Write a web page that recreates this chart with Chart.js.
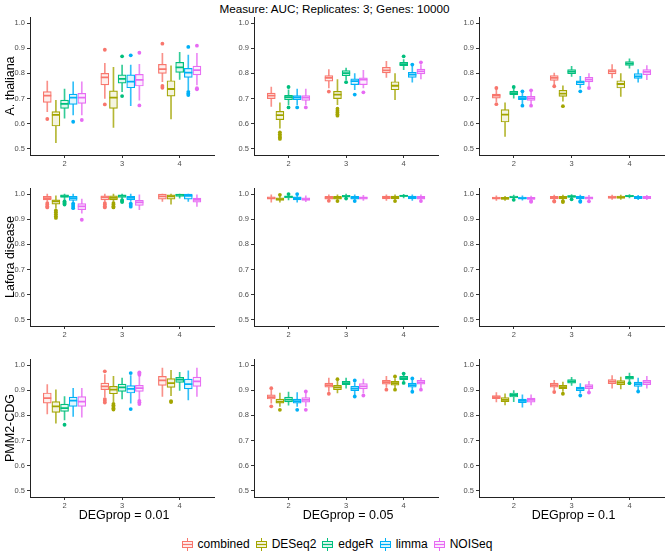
<!DOCTYPE html>
<html>
<head>
<meta charset="utf-8">
<script src="https://cdn.jsdelivr.net/npm/chart.js"></script>
<style>
html, body { margin: 0; padding: 0; background: #fff; width: 669px; height: 552px; overflow: hidden; }
body { position: relative; font-family: 'Liberation Sans', Arial, sans-serif; color: #000; }
canvas { position: absolute; }
#title { position: absolute; top: 2px; left: 0; width: 669px; text-align: center; font-size: 11.7px; line-height: 13px; }
.rowlab { position: absolute; left: 10px; font-size: 12.5px; white-space: nowrap; transform: translate(-50%, -50%) rotate(-90deg); }
.collab { position: absolute; top: 508px; font-size: 12.5px; line-height: 14px; white-space: nowrap; transform: translateX(-50%); }
#legend { position: absolute; top: 537px; left: 0; width: 674px; display: flex; justify-content: center; align-items: center; font-size: 12px; line-height: 14px; }
#legend .item { display: flex; align-items: center; margin: 0 3px; }
#legend svg { margin-right: 5px; }
</style>
</head>
<body>
<div id="title">Measure: AUC; Replicates: 3; Genes: 10000</div>
<div id="legend"></div>
<script>
// each box: [lower whisker, Q1, median, Q3, upper whisker]
// one row per method, one box per number of samples
const methods = ['combined', 'DESeq2', 'edgeR', 'limma', 'NOISeq'];
const sampleSizes = ['2', '3', '4'];
const degProps = ['DEGprop = 0.01', 'DEGprop = 0.05', 'DEGprop = 0.1'];
const organisms = ['A. thaliana', 'Lafora disease', 'PMM2-CDG'];
const yTicks = [0.5, 0.6, 0.7, 0.8, 0.9, 1.0];

const athal_01 = [
  [[0.648, 0.685, 0.712, 0.728, 0.770], [0.701, 0.754, 0.784, 0.800, 0.840], [0.767, 0.800, 0.817, 0.836, 0.880]],
  [[0.525, 0.591, 0.635, 0.648, 0.693], [0.586, 0.661, 0.704, 0.731, 0.824], [0.619, 0.710, 0.738, 0.771, 0.830]],
  [[0.622, 0.661, 0.679, 0.694, 0.738], [0.727, 0.761, 0.778, 0.794, 0.833], [0.776, 0.804, 0.824, 0.844, 0.884]],
  [[0.635, 0.677, 0.704, 0.718, 0.767], [0.672, 0.743, 0.767, 0.794, 0.833], [0.735, 0.784, 0.803, 0.820, 0.873]],
  [[0.635, 0.681, 0.704, 0.721, 0.767], [0.694, 0.750, 0.774, 0.796, 0.836], [0.754, 0.794, 0.813, 0.829, 0.880]]
];
const athal_01_out = [
  [[0.619], [0.894, 0.677], [0.918, 0.750, 0.743]],
  [[], [], []],
  [[], [0.868, 0.710], []],
  [[0.608], [0.872], [0.905, 0.727, 0.720, 0.714]],
  [[0.615], [0.882, 0.673], [0.910, 0.741, 0.737]]
];

const athal_05 = [
  [[0.669, 0.700, 0.712, 0.722, 0.746], [0.742, 0.769, 0.782, 0.791, 0.815], [0.784, 0.802, 0.812, 0.824, 0.848]],
  [[0.583, 0.616, 0.634, 0.649, 0.683], [0.676, 0.700, 0.716, 0.729, 0.775], [0.696, 0.735, 0.751, 0.767, 0.799]],
  [[0.676, 0.696, 0.706, 0.713, 0.735], [0.775, 0.791, 0.801, 0.811, 0.821], [0.815, 0.831, 0.837, 0.844, 0.855]],
  [[0.676, 0.696, 0.705, 0.712, 0.738], [0.735, 0.755, 0.769, 0.778, 0.799], [0.765, 0.784, 0.795, 0.804, 0.828]],
  [[0.676, 0.693, 0.704, 0.712, 0.738], [0.742, 0.755, 0.775, 0.782, 0.812], [0.778, 0.798, 0.808, 0.817, 0.835]]
];
const athal_05_out = [
  [[], [0.728], []],
  [[0.566, 0.558, 0.551, 0.545, 0.540], [0.660, 0.652, 0.645, 0.638, 0.632], []],
  [[0.746, 0.665], [0.765], [0.868]],
  [[0.665], [0.716], [0.835]],
  [[0.665], [0.725], [0.844]]
];

const athal_10 = [
  [[0.688, 0.702, 0.712, 0.718, 0.737], [0.755, 0.772, 0.782, 0.791, 0.801], [0.782, 0.798, 0.808, 0.815, 0.835]],
  [[0.550, 0.607, 0.636, 0.656, 0.683], [0.690, 0.709, 0.720, 0.733, 0.751], [0.709, 0.742, 0.758, 0.771, 0.799]],
  [[0.702, 0.716, 0.722, 0.729, 0.740], [0.788, 0.799, 0.807, 0.815, 0.828], [0.821, 0.832, 0.839, 0.847, 0.858]],
  [[0.680, 0.696, 0.702, 0.709, 0.725], [0.742, 0.755, 0.765, 0.771, 0.788], [0.765, 0.780, 0.788, 0.799, 0.815]],
  [[0.680, 0.693, 0.701, 0.709, 0.725], [0.750, 0.766, 0.775, 0.784, 0.799], [0.775, 0.795, 0.806, 0.815, 0.831]]
];
const athal_10_out = [
  [[0.742, 0.678], [0.749], []],
  [[], [0.670], []],
  [[0.746], [], []],
  [[0.729, 0.672], [0.729], []],
  [[0.733, 0.672], [0.742], []]
];

const lafora_01 = [
  [[0.971, 0.977, 0.984, 0.991, 1.0], [0.971, 0.977, 0.987, 0.993, 1.0], [0.971, 0.980, 0.991, 1.0, 1.0]],
  [[0.944, 0.960, 0.971, 0.977, 0.993], [0.971, 0.977, 0.985, 0.993, 1.0], [0.960, 0.980, 0.991, 0.997, 1.0]],
  [[0.975, 0.987, 0.992, 0.997, 1.0], [0.980, 0.987, 0.993, 0.997, 1.0], [0.984, 0.991, 0.997, 1.0, 1.0]],
  [[0.964, 0.975, 0.984, 0.991, 1.0], [0.971, 0.977, 0.985, 0.991, 1.0], [0.971, 0.980, 0.993, 1.0, 1.0]],
  [[0.924, 0.938, 0.951, 0.962, 0.980], [0.938, 0.955, 0.967, 0.975, 0.997], [0.951, 0.968, 0.977, 0.984, 0.997]]
];
const lafora_01_out = [
  [[0.964, 0.958, 0.952, 0.947], [0.964, 0.958, 0.952, 0.947], []],
  [[0.935, 0.928, 0.920, 0.912, 0.905], [0.964, 0.958, 0.952, 0.947], []],
  [[0.971, 0.966, 0.962, 0.958], [0.976, 0.972, 0.968], []],
  [[0.962, 0.956, 0.950, 0.944], [0.962, 0.956, 0.950], []],
  [[0.898], [], []]
];

const lafora_05 = [
  [[0.968, 0.980, 0.984, 0.989, 0.997], [0.975, 0.980, 0.985, 0.991, 0.997], [0.975, 0.981, 0.987, 0.992, 0.997]],
  [[0.968, 0.975, 0.980, 0.985, 0.993], [0.975, 0.980, 0.985, 0.991, 0.997], [0.975, 0.981, 0.987, 0.992, 0.997]],
  [[0.977, 0.985, 0.989, 0.993, 0.998], [0.980, 0.988, 0.992, 0.995, 1.0], [0.985, 0.991, 0.993, 0.996, 0.999]],
  [[0.968, 0.977, 0.984, 0.989, 0.997], [0.975, 0.980, 0.985, 0.991, 0.997], [0.975, 0.981, 0.987, 0.992, 0.997]],
  [[0.970, 0.975, 0.980, 0.985, 0.993], [0.975, 0.980, 0.985, 0.989, 0.995], [0.975, 0.980, 0.985, 0.991, 0.997]]
];
const lafora_05_out = [
  [[], [0.973], []],
  [[0.997], [0.972], [0.972]],
  [[1.0], [0.982], []],
  [[1.0], [0.972], []],
  [[], [], [0.972]]
];

const lafora_10 = [
  [[0.975, 0.980, 0.984, 0.988, 0.993], [0.976, 0.981, 0.986, 0.991, 0.996], [0.979, 0.983, 0.988, 0.992, 0.996]],
  [[0.975, 0.979, 0.983, 0.987, 0.991], [0.976, 0.981, 0.986, 0.991, 0.996], [0.979, 0.983, 0.988, 0.992, 0.996]],
  [[0.980, 0.985, 0.988, 0.992, 0.996], [0.983, 0.987, 0.991, 0.994, 0.998], [0.985, 0.989, 0.992, 0.995, 0.998]],
  [[0.976, 0.980, 0.984, 0.988, 0.993], [0.976, 0.981, 0.986, 0.991, 0.996], [0.978, 0.982, 0.987, 0.991, 0.995]],
  [[0.975, 0.979, 0.983, 0.987, 0.992], [0.976, 0.980, 0.985, 0.989, 0.995], [0.978, 0.982, 0.987, 0.991, 0.995]]
];
const lafora_10_out = [
  [[], [0.972, 0.970], []],
  [[], [0.972, 0.968], []],
  [[0.977], [0.979], []],
  [[], [0.972, 0.969], []],
  [[0.972, 0.969], [0.971], []]
];

const pmm_01 = [
  [[0.806, 0.849, 0.869, 0.889, 0.922], [0.873, 0.902, 0.915, 0.928, 0.962], [0.875, 0.919, 0.939, 0.955, 0.988]],
  [[0.769, 0.812, 0.836, 0.855, 0.902], [0.855, 0.886, 0.902, 0.915, 0.955], [0.878, 0.911, 0.928, 0.946, 0.979]],
  [[0.782, 0.816, 0.829, 0.845, 0.875], [0.865, 0.895, 0.911, 0.924, 0.948], [0.899, 0.931, 0.942, 0.951, 0.971]],
  [[0.796, 0.836, 0.859, 0.873, 0.908], [0.849, 0.889, 0.905, 0.918, 0.958], [0.862, 0.905, 0.924, 0.944, 0.977]],
  [[0.793, 0.836, 0.855, 0.875, 0.908], [0.862, 0.895, 0.908, 0.919, 0.958], [0.875, 0.915, 0.935, 0.952, 0.988]]
];
const pmm_01_out = [
  [[], [0.975, 0.865, 0.858, 0.851], []],
  [[], [0.846, 0.840, 0.834, 0.828, 0.823], [0.857, 0.853]],
  [[0.763], [], []],
  [[], [0.968, 0.825], []],
  [[], [0.971, 0.966, 0.961, 0.858, 0.852, 0.845], []]
];

const pmm_05 = [
  [[0.849, 0.865, 0.873, 0.882, 0.902], [0.895, 0.912, 0.920, 0.928, 0.948], [0.911, 0.924, 0.932, 0.939, 0.955]],
  [[0.836, 0.849, 0.855, 0.865, 0.889], [0.889, 0.902, 0.911, 0.919, 0.935], [0.908, 0.920, 0.928, 0.935, 0.946]],
  [[0.841, 0.854, 0.863, 0.873, 0.893], [0.908, 0.922, 0.928, 0.935, 0.948], [0.936, 0.942, 0.948, 0.955, 0.960]],
  [[0.836, 0.849, 0.857, 0.865, 0.891], [0.882, 0.898, 0.906, 0.915, 0.930], [0.900, 0.912, 0.920, 0.928, 0.940]],
  [[0.836, 0.853, 0.862, 0.871, 0.889], [0.889, 0.905, 0.915, 0.926, 0.944], [0.908, 0.924, 0.931, 0.939, 0.948]]
];
const pmm_05_out = [
  [[0.908, 0.836], [0.886], [0.902]],
  [[0.822], [0.944], [0.955, 0.902]],
  [[], [], [0.966, 0.929]],
  [[0.822], [0.939, 0.875], [0.947, 0.894]],
  [[0.895, 0.822], [0.879], [0.902]]
];

const pmm_10 = [
  [[0.854, 0.866, 0.873, 0.879, 0.891], [0.902, 0.912, 0.920, 0.928, 0.939], [0.908, 0.926, 0.934, 0.942, 0.958]],
  [[0.842, 0.855, 0.862, 0.871, 0.886], [0.895, 0.906, 0.912, 0.919, 0.932], [0.905, 0.922, 0.930, 0.938, 0.952]],
  [[0.855, 0.873, 0.881, 0.889, 0.899], [0.919, 0.928, 0.935, 0.942, 0.951], [0.935, 0.944, 0.950, 0.955, 0.968]],
  [[0.833, 0.851, 0.858, 0.865, 0.882], [0.889, 0.898, 0.906, 0.912, 0.926], [0.902, 0.915, 0.924, 0.932, 0.948]],
  [[0.842, 0.853, 0.862, 0.869, 0.882], [0.895, 0.906, 0.914, 0.922, 0.935], [0.908, 0.922, 0.931, 0.939, 0.955]]
];
const pmm_10_out = [
  [[], [0.893], []],
  [[], [0.886], []],
  [[], [], [0.928]],
  [[], [0.879], [0.895]],
  [[], [0.891], []]
];

const panels = [
  [[athal_01, athal_01_out], [athal_05, athal_05_out], [athal_10, athal_10_out]],
  [[lafora_01, lafora_01_out], [lafora_05, lafora_05_out], [lafora_10, lafora_10_out]],
  [[pmm_01, pmm_01_out], [pmm_05, pmm_05_out], [pmm_10, pmm_10_out]]
];

const colours = ['#F8766D', '#A3A500', '#00BF7D', '#00B0F6', '#E76BF3'];

// layout of the facet grid (pixels)
const rowTop = [17, 188, 359];
const plotH = 138;
const colAxis = [30, 254, 479];
const colW = [188, 188, 189];
const yAxisW = 30, xAxisH = 16, padTop = 8, padRight = 2;
const dodge = 0.15;

Chart.defaults.font.family = "'Liberation Sans', Arial, sans-serif";

function rgba(hex, a) {
  const n = parseInt(hex.slice(1), 16);
  return 'rgba(' + (n >> 16) + ',' + ((n >> 8) & 255) + ',' + (n & 255) + ',' + a + ')';
}
function tint(hex, a) {
  const n = parseInt(hex.slice(1), 16);
  const mix = c => Math.round(255 + (c - 255) * a);
  return 'rgb(' + mix(n >> 16) + ',' + mix((n >> 8) & 255) + ',' + mix(n & 255) + ')';
}

function makeDatasets(stats, outs) {
  const ds = [];
  methods.forEach(function (m, i) {
    const col = colours[i];
    const xs = sampleSizes.map((s, k) => k + 1 + (i - 2) * dodge);
    ds.push({
      type: 'bar', label: m + ' whisker', order: 3, grouped: false,
      data: stats[i].map((b, k) => ({x: xs[k], y: [b[0], b[4]]})),
      backgroundColor: rgba(col, 0.8), borderWidth: 0, barThickness: 1
    });
    ds.push({
      type: 'bar', label: m, order: 2, grouped: false,
      data: stats[i].map((b, k) => ({x: xs[k], y: [b[1], b[3]]})),
      backgroundColor: tint(col, 0.12), borderColor: col, borderWidth: 1.2,
      borderSkipped: false, barThickness: 8
    });
    ds.push({
      type: 'scatter', label: m + ' median', order: 1,
      data: stats[i].map((b, k) => ({x: xs[k], y: b[2]})),
      pointStyle: 'line', pointRadius: 4, pointBorderWidth: 1.8,
      pointBorderColor: col, pointBackgroundColor: col
    });
    const pts = [];
    outs[i].forEach((vals, k) => vals.forEach(v => pts.push({x: xs[k], y: v})));
    ds.push({
      type: 'scatter', label: m + ' outliers', order: 0, data: pts,
      pointRadius: 1.9, pointBorderWidth: 0, pointBackgroundColor: col, pointBorderColor: col
    });
  });
  return ds;
}

function drawPanel(r, c) {
  const cv = document.createElement('canvas');
  const w = yAxisW + colW[c] + padRight;
  const h = padTop + plotH + xAxisH;
  cv.width = w; cv.height = h;
  cv.style.left = (colAxis[c] - yAxisW) + 'px';
  cv.style.top = (rowTop[r] - padTop) + 'px';
  cv.style.width = w + 'px'; cv.style.height = h + 'px';
  document.body.appendChild(cv);

  const axisGrid = {display: true, drawOnChartArea: false, drawTicks: true, tickLength: 3, color: '#333', offset: false};
  const axisBorder = {display: true, color: '#222', width: 1};
  const tickFont = {size: 7.5};

  new Chart(cv, {
    type: 'bar',
    data: {datasets: makeDatasets(panels[r][c][0], panels[r][c][1])},
    options: {
      responsive: false, animation: false, devicePixelRatio: 1,
      layout: {padding: {top: padTop, right: padRight, left: 0, bottom: 0}},
      plugins: {legend: {display: false}, tooltip: {enabled: false}},
      scales: {
        x: {
          type: 'linear', min: 0.4, max: 3.6, offset: false,
          afterBuildTicks: s => { s.ticks = sampleSizes.map((t, k) => ({value: k + 1})); },
          afterFit: s => { s.height = xAxisH; },
          ticks: {callback: v => sampleSizes[v - 1], color: '#4D4D4D', font: tickFont, padding: 1, maxRotation: 0, autoSkip: false},
          grid: axisGrid, border: axisBorder
        },
        y: {
          type: 'linear', min: 0.476, max: 1.024, beginAtZero: false,
          afterBuildTicks: s => { s.ticks = yTicks.map(v => ({value: v})); },
          afterFit: s => { s.width = yAxisW; },
          ticks: {callback: v => v.toFixed(1), color: '#4D4D4D', font: tickFont, padding: 2, autoSkip: false},
          grid: axisGrid, border: axisBorder
        }
      }
    }
  });
}

for (let r = 0; r < 3; r++) for (let c = 0; c < 3; c++) drawPanel(r, c);

organisms.forEach(function (name, r) {
  const d = document.createElement('div');
  d.className = 'rowlab';
  d.textContent = name;
  d.style.top = (rowTop[r] + plotH / 2) + 'px';
  document.body.appendChild(d);
});

degProps.forEach(function (name, c) {
  const d = document.createElement('div');
  d.className = 'collab';
  d.textContent = name;
  d.style.left = (colAxis[c] + colW[c] / 2) + 'px';
  document.body.appendChild(d);
});

const legend = document.getElementById('legend');
methods.forEach(function (m, i) {
  const col = colours[i];
  const item = document.createElement('div');
  item.className = 'item';
  item.innerHTML =
    '<svg width="11" height="13" viewBox="0 0 11 13">' +
    '<line x1="5.5" y1="0" x2="5.5" y2="13" stroke="' + col + '" stroke-width="1"/>' +
    '<rect x="0.5" y="3.5" width="10" height="6" fill="' + tint(col, 0.12) + '" stroke="' + col + '" stroke-width="1"/>' +
    '<line x1="0.5" y1="6.5" x2="10.5" y2="6.5" stroke="' + col + '" stroke-width="1.2"/>' +
    '</svg><span style="color:#000">' + m + '</span>';
  legend.appendChild(item);
});
</script>
</body>
</html>
